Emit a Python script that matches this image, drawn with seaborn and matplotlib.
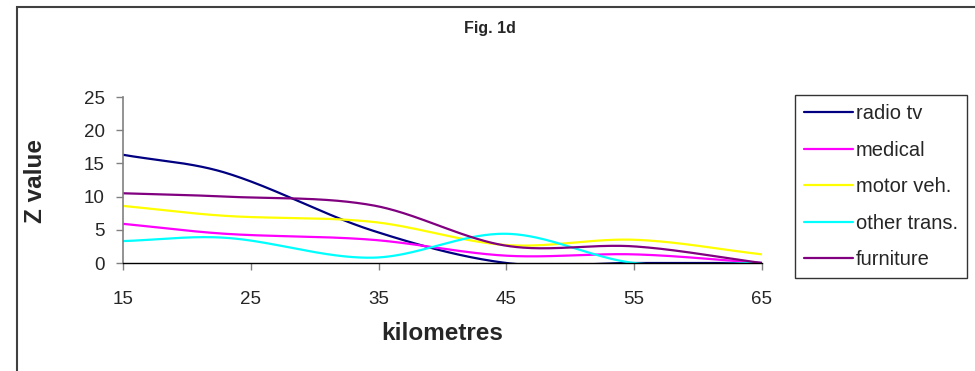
import numpy as np
import pandas as pd
import matplotlib
matplotlib.use("Agg")
import matplotlib.pyplot as plt
from matplotlib.patches import Rectangle
import seaborn as sns

# ---- data ----
km = [15, 23, 34.5, 45, 55, 65]
radio_tv = [16.3, 13.6, 4.9, 0.0, 0.0, 0.0]
medical = [5.9, 4.4, 3.5, 1.1, 1.3, 0.0]
motor_veh = [8.6, 7.1, 6.2, 2.7, 3.5, 1.3]
other_trans = [3.3, 3.8, 0.8, 4.4, 0.0, 0.0]
furniture = [10.5, 10.0, 8.7, 2.6, 2.5, 0.0]

series_names = ["radio tv", "medical", "motor veh.", "other trans.", "furniture"]
series_vals = [radio_tv, medical, motor_veh, other_trans, furniture]
colors = ["#000080", "#FF00FF", "#FFFF00", "#00FFFF", "#800080"]
xticks = [15, 25, 35, 45, 55, 65]
yticks = [0, 5, 10, 15, 20, 25]


def smooth(x, y, n=400):
    """Cubic Hermite (Catmull-Rom style) smoothing like Excel's smoothed lines."""
    x = np.asarray(x, float)
    y = np.asarray(y, float)
    m = np.zeros_like(y)
    m[0] = (y[1] - y[0]) / (x[1] - x[0])
    m[-1] = (y[-1] - y[-2]) / (x[-1] - x[-2])
    for i in range(1, len(x) - 1):
        m[i] = (y[i + 1] - y[i - 1]) / (x[i + 1] - x[i - 1])
    xs = np.linspace(x[0], x[-1], n)
    idx = np.clip(np.searchsorted(x, xs) - 1, 0, len(x) - 2)
    h = x[idx + 1] - x[idx]
    t = (xs - x[idx]) / h
    h00 = 2 * t**3 - 3 * t**2 + 1
    h10 = t**3 - 2 * t**2 + t
    h01 = -2 * t**3 + 3 * t**2
    h11 = t**3 - t**2
    ys = h00 * y[idx] + h10 * h * m[idx] + h01 * y[idx + 1] + h11 * h * m[idx + 1]
    return xs, ys


frames = []
for name, vals in zip(series_names, series_vals):
    xs, ys = smooth(km, vals)
    frames.append(pd.DataFrame({"km": xs, "z": ys, "series": name}))
df = pd.concat(frames, ignore_index=True)

sns.set_style("white")
plt.rcParams["font.family"] = ["Liberation Sans", "DejaVu Sans"]

W, H = 975, 371
fig = plt.figure(figsize=(W / 100, H / 100), dpi=100)
ax = fig.add_axes([123 / W, 1 - 263 / H, (762 - 123) / W, (263 - 97) / H])

sns.lineplot(data=df, x="km", y="z", hue="series", hue_order=series_names,
             palette=dict(zip(series_names, colors)), linewidth=1.6,
             ax=ax, legend=False, sort=False, estimator=None)

ax.set_xlim(15, 65)
ax.set_ylim(0, 25)
ax.set_xticks(xticks)
ax.set_yticks(yticks)
ax.set_xticklabels([str(v) for v in xticks])
ax.set_yticklabels([str(v) for v in yticks])
for s in ["top", "right"]:
    ax.spines[s].set_visible(False)
ax.spines["left"].set_color("#808080")
ax.spines["left"].set_linewidth(1.2)
ax.spines["bottom"].set_color("black")
ax.spines["bottom"].set_linewidth(1.0)
ax.tick_params(axis="x", direction="out", length=5, width=1, color="#808080",
               pad=15, labelsize=13.5, bottom=True)
ax.tick_params(axis="y", direction="out", length=5, width=1, color="#808080",
               pad=8, labelsize=13.5, left=True)
ax.set_xlabel("")
ax.set_ylabel("")
ax.grid(False)

fig.text(35 / W, 1 - 181 / H, "Z value", rotation=90, ha="center", va="center",
         fontsize=17.5, fontweight="bold")
fig.text(442 / W, 1 - 333 / H, "kilometres", ha="center", va="center",
         fontsize=17.5, fontweight="bold")
fig.text(490 / W, 1 - 28 / H, "Fig. 1d", ha="center", va="center",
         fontsize=11.5, fontweight="bold")

handles = [plt.Line2D([0], [0], color=c, lw=1.6) for c in colors]
leg = fig.legend(handles, series_names, loc="upper left",
                 bbox_to_anchor=(795 / W, 1 - 95 / H), bbox_transform=fig.transFigure,
                 frameon=True, fancybox=False, fontsize=14.5, handlelength=2.45,
                 handletextpad=0.12, labelspacing=0.87, borderpad=0.45,
                 borderaxespad=0)
leg.get_frame().set_edgecolor("black")
leg.get_frame().set_linewidth(1.0)

fig.add_artist(Rectangle((17 / W, -0.1), 1.2, 1 - 7 / H + 0.1,
                         transform=fig.transFigure, fill=False,
                         edgecolor="#404040", linewidth=1.5))

fig.savefig("out.png", dpi=100, facecolor="white")
